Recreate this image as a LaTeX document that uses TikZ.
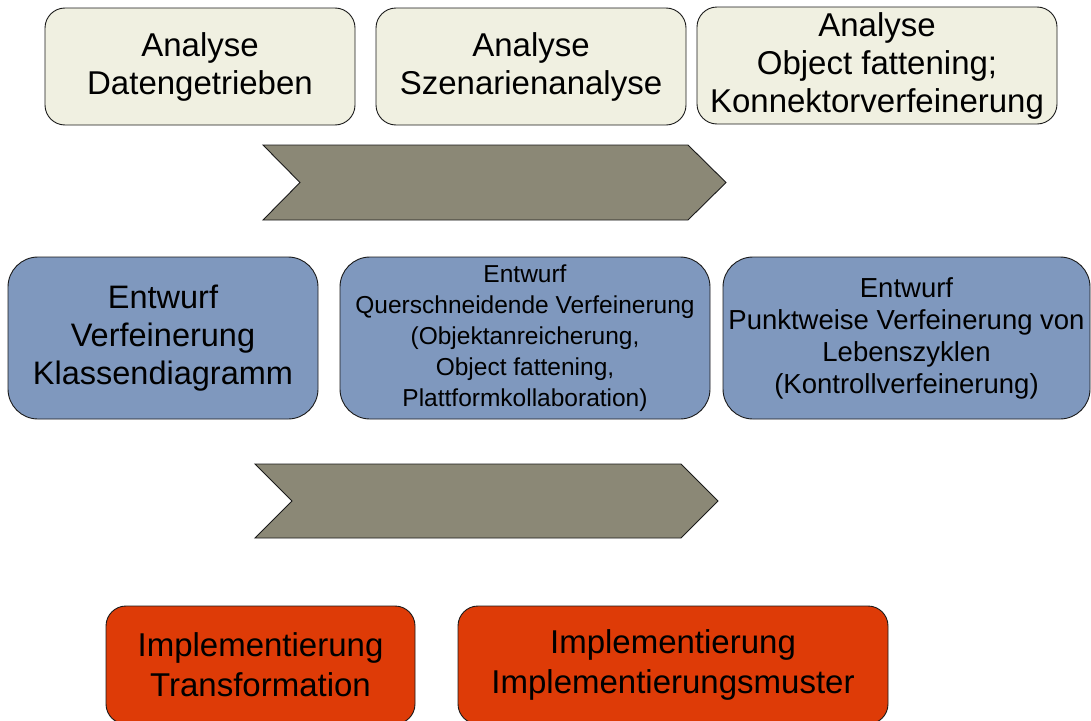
\documentclass[tikz,border=0pt]{standalone}
\usepackage{fontspec}
\setmainfont{Liberation Sans}
\definecolor{analysefill}{HTML}{F0F0E1}
\definecolor{entwurffill}{HTML}{7F98BE}
\definecolor{implfill}{HTML}{DE3B07}
\definecolor{chevronfill}{HTML}{8B8876}
\definecolor{edge}{HTML}{1A1A1A}
\begin{document}
\begin{tikzpicture}[x=1pt,y=-1pt,
  phase/.style={draw=edge, line width=0.9pt, align=center, inner sep=0pt,
    text=black},
  analyse/.style={phase, fill=analysefill, rounded corners=20pt,
    minimum height=117pt, font=\fontsize{33}{38}\selectfont},
  entwurf/.style={phase, fill=entwurffill, rounded corners=30pt,
    minimum height=162pt},
  impl/.style={phase, fill=implfill, rounded corners=20pt,
    minimum height=118pt, font=\fontsize{33}{40}\selectfont},
  chevron/.style={fill=chevronfill, draw=edge, line width=0.9pt, line join=miter}]
\useasboundingbox (0,0) rectangle (1091,720);

% analysis phase
\node[analyse, minimum width=310pt] (a1) at (200,66.5) {Analyse\\Datengetrieben};
\node[analyse, minimum width=310pt] (a2) at (531,66.5) {Analyse\\Szenarienanalyse};
\node[analyse, minimum width=360pt] (a3) at (877,65.5) {Analyse\\Object fattening;\\Konnektorverfeinerung};

% transition arrow
\draw[chevron] (263,145) -- (688,145) -- (726,182.5) -- (688,220)
  -- (263,220) -- (300,182.5) -- cycle;

% design phase
\node[entwurf, minimum width=310pt, font=\fontsize{32.5}{38}\selectfont] (e1) at (163,338)
  {Entwurf\\Verfeinerung\\Klassendiagramm};
\node[entwurf, minimum width=370pt, font=\fontsize{24.5}{31}\selectfont] (e2) at (525,338)
  {Entwurf\\Querschneidende Verfeinerung\\(Objektanreicherung,\\Object fattening,\\Plattformkollaboration)};
\node[entwurf, minimum width=367pt, font=\fontsize{27.5}{32}\selectfont] (e3) at (906.5,338)
  {Entwurf\\Punktweise Verfeinerung von\\Lebenszyklen\\(Kontrollverfeinerung)};

% transition arrow
\draw[chevron] (255,464) -- (681,464) -- (718,501) -- (681,538)
  -- (255,538) -- (292,501) -- cycle;

% implementation phase
\node[impl, minimum width=309pt] (i1) at (260.5,665) {Implementierung\\Transformation};
\node[impl, minimum width=430pt] (i2) at (673,665) {Implementierung\\Implementierungsmuster};
\end{tikzpicture}
\end{document}
